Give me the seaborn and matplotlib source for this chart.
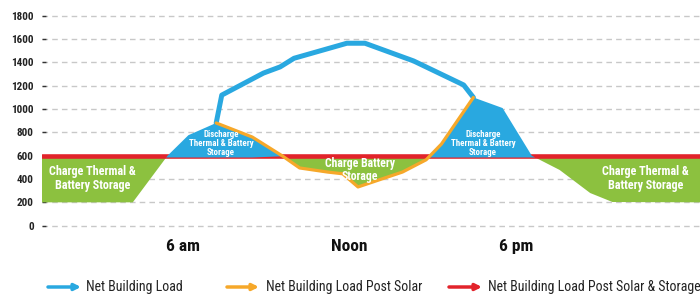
import numpy as np
import seaborn as sns
import matplotlib.pyplot as plt

# hours of the day and load values
load_hours = [0.9, 4.2, 5.45, 6.2, 7.2, 7.4, 8.9, 9.5, 10.0, 11.9, 12.55, 14.3, 16.1, 16.45, 17.5, 18.55, 19.55, 20.65, 21.45, 24.6]
load_values = [200, 200, 600, 776, 881, 1120, 1309, 1362, 1436, 1565, 1565, 1413, 1207, 1100, 1009, 600, 478, 280, 203, 200]

solar_hours = [7.2, 8.5, 9.6, 10.2, 11.2, 11.75, 12.3, 13.9, 14.75, 15.3, 16.45]
solar_values = [881, 760, 595, 495, 460, 445, 332, 460, 565, 700, 1100]

storage_level = 600

tick_hours = [6, 12, 18]
tick_names = ["6 am", "Noon", "6 pm"]
y_ticks = list(range(0, 1801, 200))

series_names = ["Net Building Load", "Net Building Load Post Solar", "Net Building Load Post Solar & Storage"]

BLUE = "#29a8e0"
ORANGE = "#f6a82a"
RED = "#e2232b"
GREEN = "#8cc13f"

sns.set_theme(style="white")
plt.rcParams["font.family"] = ["Roboto Condensed", "Liberation Sans Narrow", "Roboto", "DejaVu Sans"]

fig = plt.figure(figsize=(7, 2.99), dpi=100)
ax = fig.add_axes([0.06, 0.2375, 0.94, 0.7173])

# boundary of the coloured areas: load before/after the sun, post solar load in between
lh = np.array(load_hours)
lv = np.array(load_values)
sh = np.array(solar_hours)
sv = np.array(solar_values)
before = lh < sh[0]
after = lh > sh[-1]
bh = np.concatenate([lh[before], sh, lh[after]])
bv = np.concatenate([lv[before], sv, lv[after]])

ax.fill_between(bh, bv, storage_level, where=bv <= storage_level, interpolate=True,
                color=GREEN, lw=0, zorder=2)
ax.axhline(storage_level, color=RED, lw=3.3, zorder=3)
ax.fill_between(bh, bv, storage_level - 15, where=bv >= storage_level, interpolate=True,
                color=BLUE, lw=0, zorder=4)

day = (lh >= sh[0]) & (lh <= sh[-1])
sns.lineplot(x=lh[day], y=lv[day], ax=ax, color=BLUE, lw=3.6, zorder=5)
sns.lineplot(x=sh, y=sv, ax=ax, color=ORANGE, lw=2.3, zorder=6)

txt = dict(color="white", fontweight="bold", ha="center", va="center", zorder=7)
ax.text(2.75, 405, "Charge Thermal &\nBattery Storage", fontsize=8.7, linespacing=1.1, **txt)
ax.text(22.65, 405, "Charge Thermal &\nBattery Storage", fontsize=8.7, linespacing=1.1, **txt)
ax.text(12.37, 478, "Charge Battery\nStorage", fontsize=8.5, linespacing=0.95, **txt)
ax.text(7.37, 707, "Discharge\nThermal & Battery\nStorage", fontsize=6.4, linespacing=1.0, **txt)
ax.text(16.8, 707, "Discharge\nThermal & Battery\nStorage", fontsize=6.4, linespacing=1.0, **txt)

ax.set_xlim(0.935, 24.6)
ax.set_ylim(-20, 1820)
ax.set_yticks(y_ticks)
ax.set_yticklabels([str(v) for v in y_ticks], fontsize=8, fontweight="bold", color="#222222")
ax.set_xticks(tick_hours)
ax.set_xticklabels(tick_names, fontsize=12.5, fontweight="bold", color="#111111")
ax.tick_params(axis="y", length=3, width=1, direction="in", color="#333333", pad=6, left=True)
ax.tick_params(axis="x", length=0, pad=8)
ax.yaxis.grid(True, linestyle=(0, (4, 3)), color="#c8c8c8", lw=1)
ax.xaxis.grid(False)
ax.set_axisbelow(True)
sns.despine(ax=ax, left=True, bottom=True)

# legend with arrows
leg_x = [(48, 81, 86), (227, 259, 266), (449, 482, 488)]
for (x0, x1, xt), name, col in zip(leg_x, series_names, [BLUE, ORANGE, RED]):
    fig.add_artist(plt.Annotation("", xy=(x1, 12), xytext=(x0, 12), xycoords="figure pixels",
                                  arrowprops=dict(arrowstyle="-|>", color=col, lw=2.5,
                                                  mutation_scale=9, shrinkA=0, shrinkB=0)))
    fig.text(xt / 700, 12 / 299, name, fontsize=10, color="#222222", va="center", ha="left")

fig.savefig("out.png", dpi=100)
